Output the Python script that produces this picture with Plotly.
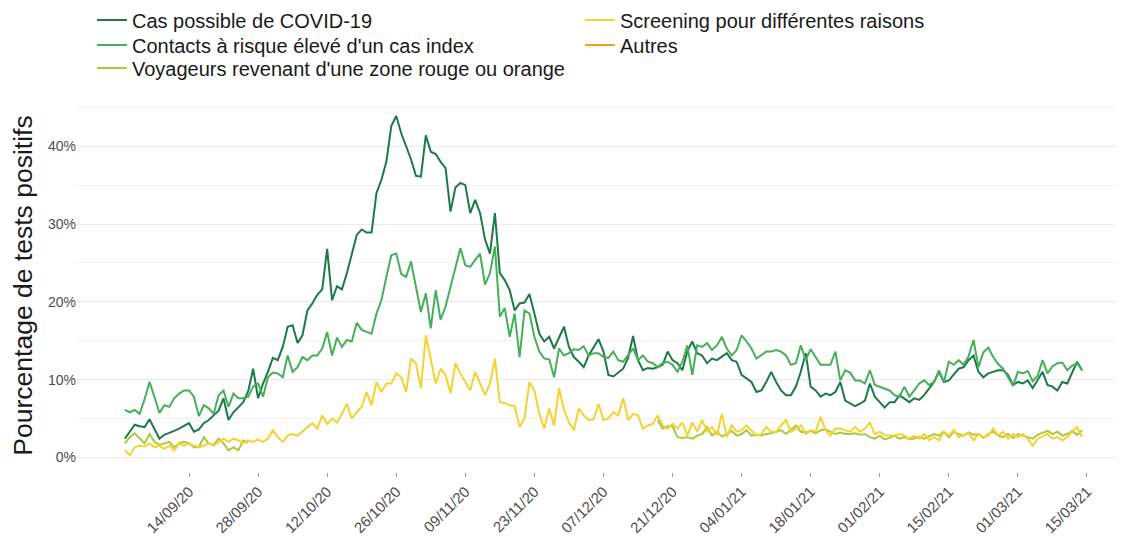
import pandas as pd
import plotly.graph_objects as go

start_date = "2020-09-01"

cas_possible = [
    2.4, 3.3, 4.2, 4.0, 3.9, 4.9, 3.6, 2.4, 2.9, 3.1,
    3.4, 3.7, 4.1, 4.4, 3.3, 3.6, 4.4, 4.8, 5.4, 6.0,
    7.6, 4.8, 5.8, 6.4, 7.1, 8.5, 11.4, 7.6, 9.5, 11.0,
    12.8, 12.5, 14.2, 16.8, 17.0, 14.7, 15.7, 18.9, 19.8, 20.9,
    21.6, 26.8, 20.2, 22.0, 21.6, 23.7, 26.0, 28.6, 29.3, 28.9,
    28.9, 34.0, 35.7, 38.0, 42.6, 43.9, 41.7, 40.0, 38.3, 36.2,
    36.1, 41.4, 39.3, 39.0, 38.0, 37.2, 31.6, 34.7, 35.3, 35.0,
    31.4, 33.1, 31.4, 28.0, 26.2, 31.4, 23.7, 22.8, 21.5, 18.9,
    19.8, 19.9, 21.0, 18.5, 15.9, 14.9, 15.5, 14.0, 15.5, 16.8,
    14.2, 12.9, 12.3, 11.6, 13.1, 14.2, 15.2, 13.6, 10.6, 10.4,
    10.9, 11.4, 12.8, 15.6, 12.5, 11.2, 11.5, 11.4, 11.6, 11.9,
    13.6, 12.5, 12.1, 11.2, 13.6, 14.9, 13.4, 13.1, 12.1, 12.7,
    12.5, 12.9, 13.4, 12.5, 12.3, 10.6, 10.1, 9.7, 8.4, 8.6,
    9.7, 11.0, 9.7, 8.6, 8.0, 8.0, 9.1, 11.0, 13.4, 9.1,
    8.6, 7.8, 8.2, 8.0, 8.4, 9.7, 7.3, 6.9, 6.6, 6.9,
    7.3, 9.5, 7.8, 7.1, 6.4, 7.1, 7.1, 8.0, 7.6, 7.1,
    7.6, 7.4, 8.0, 8.9, 9.7, 11.0, 9.7, 9.9, 10.6, 11.4,
    11.6, 12.5, 13.1, 11.0, 10.3, 10.8, 11.0, 11.2, 11.2, 10.6,
    9.3, 9.7, 9.5, 9.9, 8.9, 9.9, 11.0, 9.3, 9.1, 8.6,
    9.7, 9.5, 10.8, 12.3, 11.2,
]

contacts = [
    6.1, 5.8, 6.1, 5.6, 7.5, 9.7, 7.8, 5.7, 6.7, 6.5,
    7.6, 8.2, 8.6, 8.6, 7.8, 5.3, 6.7, 6.3, 5.6, 8.0,
    8.6, 6.5, 8.2, 7.6, 7.6, 7.8, 9.1, 9.5, 7.8, 10.3,
    10.9, 10.8, 10.3, 13.1, 11.0, 11.6, 12.9, 12.5, 13.1, 13.1,
    14.0, 16.1, 13.1, 15.4, 14.2, 15.1, 14.9, 17.3, 16.4, 16.1,
    15.9, 18.5, 20.2, 23.2, 26.0, 26.2, 23.6, 23.2, 25.2, 21.9,
    18.7, 21.1, 16.6, 21.5, 17.7, 19.4, 21.9, 24.1, 26.9, 24.7,
    24.5, 25.4, 26.2, 22.2, 23.7, 27.1, 18.1, 19.2, 15.5, 18.5,
    12.9, 18.9, 18.5, 15.5, 13.6, 12.7, 12.6, 10.3, 14.0, 13.1,
    13.4, 13.9, 13.8, 14.3, 13.1, 13.4, 13.4, 12.9, 12.8, 13.6,
    12.5, 12.3, 13.1, 14.0, 12.5, 13.1, 12.3, 12.1, 11.6, 12.1,
    12.3, 11.9, 11.0, 12.3, 14.4, 10.6, 14.4, 14.2, 14.7, 13.8,
    14.4, 15.5, 14.0, 13.1, 13.8, 15.7, 14.9, 14.0, 12.7, 13.1,
    13.6, 13.6, 13.8, 13.6, 13.1, 11.9, 12.1, 14.4, 12.5, 13.9,
    12.9, 11.9, 11.9, 11.9, 13.6, 9.9, 11.2, 10.9, 9.9, 9.9,
    9.5, 11.2, 9.3, 9.1, 8.9, 8.6, 8.0, 7.8, 9.1, 7.8,
    8.6, 9.5, 9.9, 9.3, 9.7, 11.2, 9.7, 12.3, 11.9, 12.5,
    11.9, 13.0, 15.1, 11.6, 13.5, 14.1, 12.9, 12.0, 11.4, 10.3,
    9.2, 11.0, 10.8, 11.1, 9.8, 10.5, 12.5, 10.8, 11.7, 12.1,
    12.2, 11.2, 11.8, 12.1, 11.2,
]

voyageurs_sept = [
    1.8, 2.6, 3.1, 2.4, 1.8, 3.0, 2.0, 1.6, 1.8, 2.0,
    1.3, 1.8, 2.0, 1.8, 1.3, 1.3, 2.6, 1.8, 1.6, 2.4,
    1.8, 0.9, 1.3, 0.9, 2.2, 1.9,
]
voyageurs_missing_days = 82
voyageurs_dec = [
    4.8, 3.7, 4.0, 4.0, 2.6, 2.5, 2.6, 2.4, 2.8, 3.0,
    3.9, 2.8, 3.3, 2.7, 3.0, 3.4, 2.8, 3.0, 3.5, 2.8,
    2.9, 2.8, 3.0, 3.1, 3.3, 3.5, 3.0, 3.6, 4.1, 3.3,
    3.2, 3.4, 3.1, 3.5, 3.6, 3.3, 3.0, 3.2, 3.0, 3.0,
    3.1, 2.9, 3.0, 2.6, 2.4, 2.8, 2.3, 2.5, 2.8, 2.4,
    2.6, 2.3, 2.5, 2.6, 2.4, 2.7, 3.0, 2.8,
    3.3, 2.6, 3.3, 3.0, 2.8, 3.2, 2.9, 3.0, 2.5, 3.0,
    3.3, 2.8, 2.6, 3.0, 2.5, 3.0, 2.8, 2.6, 2.4, 2.9,
    3.2, 3.4, 3.0, 3.3, 2.8, 3.0, 3.4, 2.9, 3.5,
]

screening = [
    0.9, 0.3, 1.3, 1.5, 1.4, 1.8, 1.3, 1.5, 1.1, 1.5,
    0.9, 1.8, 1.5, 1.8, 1.5, 1.3, 1.5, 1.8, 1.5, 2.0,
    2.4, 2.0, 2.4, 2.2, 1.8, 2.2, 2.0, 2.3, 2.0, 2.4,
    3.5, 2.6, 2.0, 2.8, 3.0, 2.8, 3.3, 3.9, 4.4, 3.7,
    5.4, 4.3, 5.0, 4.5, 5.6, 6.9, 5.0, 5.8, 6.5, 8.4,
    6.7, 9.7, 8.4, 9.5, 9.5, 10.8, 10.3, 8.4, 12.7, 12.1,
    8.9, 15.7, 12.5, 9.5, 11.4, 10.6, 8.2, 12.1, 10.8, 9.7,
    8.6, 11.0, 9.5, 8.0, 9.5, 12.7, 7.1, 7.0, 6.7, 6.6,
    3.9, 5.0, 9.7, 8.6, 5.6, 3.7, 6.3, 4.1, 8.9, 6.1,
    4.5, 3.5, 6.3, 5.4, 4.8, 4.9, 6.9, 4.8, 5.0, 5.8,
    5.4, 7.6, 4.8, 5.6, 5.4, 3.7, 4.1, 4.3, 5.4, 4.1,
    3.7, 4.3, 3.7, 4.5, 2.8, 4.5, 3.3, 4.8, 3.3, 3.9,
    2.8, 5.6, 2.6, 4.1, 3.3, 3.5, 4.1, 3.5, 2.8, 3.0,
    3.9, 3.3, 3.3, 4.1, 4.8, 3.3, 3.7, 4.1, 3.0, 3.5,
    3.3, 5.2, 3.5, 2.8, 3.7, 3.7, 3.5, 3.3, 3.9, 3.3,
    3.7, 4.5, 3.0, 3.3, 2.8, 2.8, 2.8, 3.0, 2.8, 2.4,
    2.8, 2.4, 3.0, 2.2, 2.6, 2.2, 3.3, 2.8, 3.5, 2.6,
    2.8, 3.1, 2.2, 3.0, 2.6, 2.8, 3.7, 2.8, 3.3, 2.4,
    3.0, 2.6, 3.0, 2.4, 1.5, 2.4, 2.7, 3.0, 2.4, 2.6,
    2.2, 2.6, 3.3, 3.9, 2.6,
]

autres = [None]

series_names = [
    "Cas possible de COVID-19",
    "Contacts à risque élevé d'un cas index",
    "Voyageurs revenant d'une zone rouge ou orange",
    "Screening pour différentes raisons",
    "Autres",
]
series_colors = ["#1b7a47", "#45b058", "#a9cb3b", "#f6d22e", "#f0a21e"]

tick_dates = ["2020-09-14", "2020-09-28", "2020-10-12", "2020-10-26", "2020-11-09",
              "2020-11-23", "2020-12-07", "2020-12-21", "2021-01-04", "2021-01-18",
              "2021-02-01", "2021-02-15", "2021-03-01", "2021-03-15"]
tick_labels = ["14/09/20", "28/09/20", "12/10/20", "26/10/20", "09/11/20",
               "23/11/20", "07/12/20", "21/12/20", "04/01/21", "18/01/21",
               "01/02/21", "15/02/21", "01/03/21", "15/03/21"]

dates = pd.date_range(start_date, periods=len(cas_possible))
voyageurs = voyageurs_sept + [None] * voyageurs_missing_days + voyageurs_dec

series_values = [cas_possible, contacts, voyageurs, screening, autres]
legend_ids = ["legend", "legend2", "legend3", "legend4", "legend5"]
# legend placement (paper coords): two columns, three rows
legend_pos = [(0.0143, 1.2118), (0.0143, 1.1448), (0.0143, 1.0831),
              (0.4808, 1.2118), (0.4808, 1.1448)]

fig = go.Figure()
for name, vals, col, lg in zip(series_names, series_values, series_colors, legend_ids):
    fig.add_trace(go.Scatter(
        x=dates[:len(vals)], y=vals, mode="lines", name=name,
        line=dict(color=col, width=2), connectgaps=False, legend=lg,
        showlegend=True,
    ))

font_family = "Liberation Sans, Arial, sans-serif"
x_start = dates[0] - pd.Timedelta(days=9.7)
x_end = dates[-1] + pd.Timedelta(days=8.3)

legend_layout = {}
for lg, (lx, ly) in zip(legend_ids, legend_pos):
    legend_layout[lg] = dict(x=lx, y=ly, xanchor="left", yanchor="middle",
                             font=dict(size=20, color="#1a1a1a"),
                             bgcolor="rgba(0,0,0,0)", borderwidth=0)

# page body has an 8px default margin: figure is sized/offset to fill the window
fig.update_layout(
    width=1115, height=531,
    margin=dict(l=69, r=0, t=91, b=67, autoexpand=False),
    showlegend=True,
    paper_bgcolor="white", plot_bgcolor="white",
    font=dict(family=font_family, color="#1a1a1a"),
    xaxis=dict(
        range=[x_start, x_end], tickmode="array",
        tickvals=pd.to_datetime(tick_dates), ticktext=tick_labels,
        tickangle=-45, ticks="outside", ticklen=4, tickcolor="#999999",
        tickfont=dict(size=15, color="#4d4d4d"), showgrid=False,
        zeroline=False, showline=False, automargin=False,
    ),
    yaxis=dict(
        range=[-1.88, 46.08], tickmode="array", tickvals=[0, 10, 20, 30, 40],
        ticktext=["0%", "10%", "20%", "30%", "40%"],
        tickfont=dict(size=14, color="#4d4d4d"),
        showgrid=True, gridcolor="#ebebeb", gridwidth=1,
        minor=dict(tickvals=[5, 15, 25, 35, 45], showgrid=True, gridcolor="#f2f2f2", gridwidth=1),
        zeroline=False, showline=False, ticks="", automargin=False,
        title=dict(text="Pourcentage de tests positifs", font=dict(size=26.5, color="#1a1a1a"), standoff=12),
    ),
    **legend_layout,
)

fig.write_html("out.html")
